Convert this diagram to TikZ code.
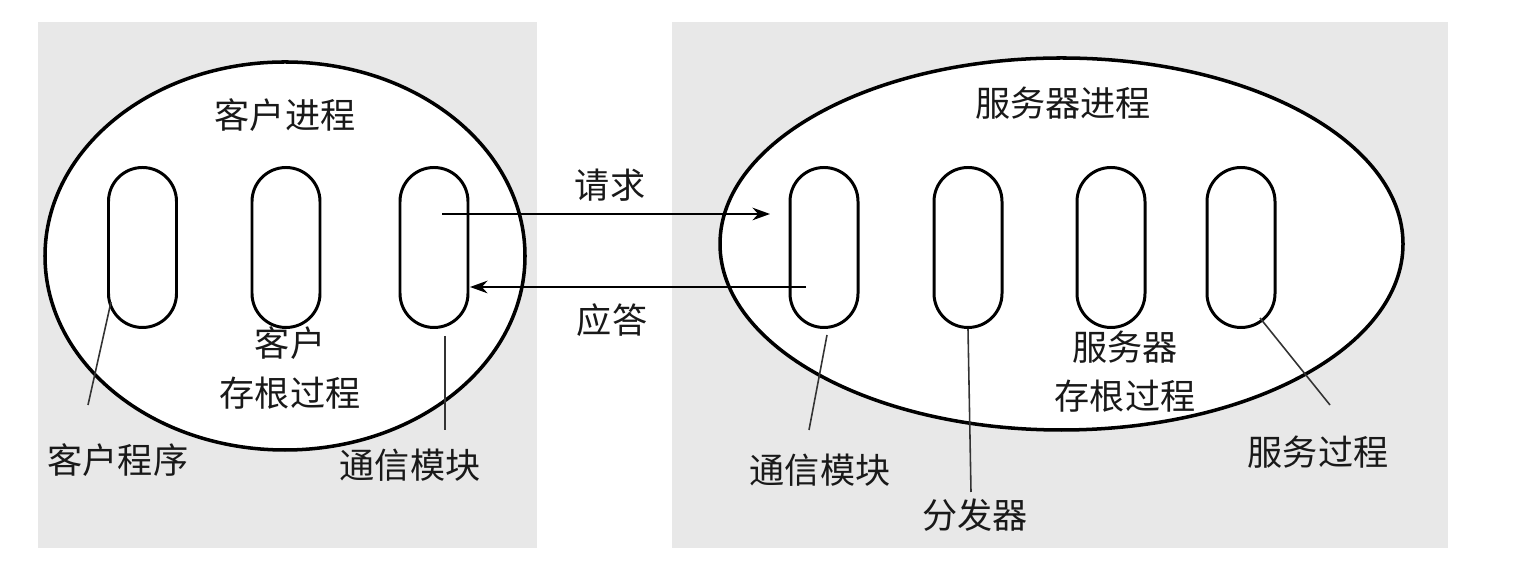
\documentclass[tikz,border=0pt]{standalone}
\usepackage{fontspec}
\newfontfamily\cjk{Noto Sans CJK SC}
\usetikzlibrary{shapes.geometric,arrows.meta,calc}
\begin{document}
\begin{tikzpicture}[
  panel/.style={fill=black!9,draw=none},
  proc/.style={ellipse,draw,line width=1pt,fill=white,inner sep=0pt},
  capsule/.style={draw,line width=0.85pt,rectangle,rounded corners=0.34cm,minimum width=0.68cm,minimum height=1.6cm,inner sep=0pt},
  lbl/.style={font=\cjk\fontsize{10}{14}\selectfont,inner sep=1pt,align=center,text=black!90},
  leader/.style={line width=0.45pt,draw=black!80},
  msg/.style={line width=0.55pt,-{Stealth[length=5pt,width=3.6pt]}}
]
\useasboundingbox (0,0) rectangle (15.3,5.72);
\fill[white] (0,0) rectangle (15.3,5.72);
\path[panel] (0.38,0.24) rectangle (5.37,5.50);
\path[panel] (6.72,0.24) rectangle (14.48,5.50);

\node[proc,minimum width=4.80cm,minimum height=3.88cm] (cp) at (2.85,3.16) {};
\node[proc,minimum width=6.83cm,minimum height=3.72cm] (sp) at (10.615,3.28) {};

\node[capsule] (c1) at (1.425,3.245) {};
\node[capsule] (c2) at (2.86,3.245) {};
\node[capsule] (c3) at (4.34,3.245) {};
\node[capsule] (c4) at (8.24,3.245) {};
\node[capsule] (c5) at (9.68,3.245) {};
\node[capsule] (c6) at (11.11,3.245) {};
\node[capsule] (c7) at (12.41,3.245) {};

\node[lbl] (tcp) at (2.85,4.57) {客户进程};
\node[lbl] (tsp) at (10.63,4.69) {服务器进程};
\node[lbl] (treq) at (6.10,3.87) {请求};
\node[lbl] (trep) at (6.12,2.52) {应答};
\node[lbl] (tcs) at (2.90,2.04) {客户\\存根过程};
\node[lbl] (tcprog) at (1.18,1.12) {客户程序};
\node[lbl] (tcm1) at (4.10,1.07) {通信模块};
\node[lbl] (tcm2) at (8.20,1.02) {通信模块};
\node[lbl] (tdisp) at (9.75,0.57) {分发器};
\node[lbl] (tss) at (11.25,2.00) {服务器\\存根过程};
\node[lbl] (tsproc) at (13.18,1.20) {服务过程};

% message arrows
\coordinate (reqs) at ($(c3.center)+(0.08,0.335)$);
\coordinate (reqe) at ($(c4.center)+(-0.54,0.335)$);
\coordinate (reps) at ($(c4.center)+(-0.18,-0.395)$);
\coordinate (repe) at ($(c3.center)+(0.36,-0.395)$);
\draw[msg] (reqs) -- (reqe);
\draw[msg] (reps) -- (repe);

% leader lines
\coordinate (l1a) at (1.11,2.70);
\coordinate (l1b) at (0.88,1.67);
\draw[leader] (l1a) -- (l1b);
\coordinate (l2a) at (4.45,2.36);
\coordinate (l2b) at (4.45,1.42);
\draw[leader] (l2a) -- (l2b);
\coordinate (l3a) at (8.27,2.37);
\coordinate (l3b) at (8.09,1.42);
\draw[leader] (l3a) -- (l3b);
\coordinate (l4b) at (9.71,0.80);
\draw[leader] (c5.south) -- (l4b);
\coordinate (l5a) at (12.60,2.54);
\coordinate (l5b) at (13.30,1.67);
\draw[leader] (l5a) -- (l5b);
\end{tikzpicture}
\end{document}
